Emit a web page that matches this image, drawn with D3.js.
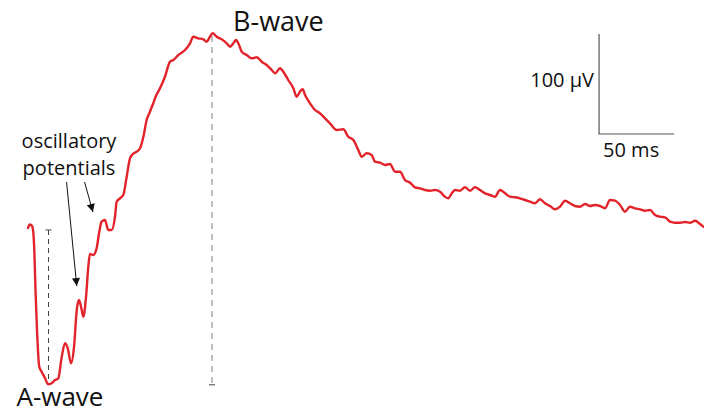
<!DOCTYPE html>
<html>
<head>
<meta charset="utf-8">
<script src="https://cdn.jsdelivr.net/npm/d3@7/dist/d3.min.js"></script>
<style>
  html, body { margin: 0; padding: 0; background: #fff; }
  svg { display: block; }
  text { font-family: "Open Sans", "Noto Sans", sans-serif; fill: #111; }
</style>
</head>
<body>
<svg id="erg" width="704" height="414"></svg>
<script>
// ERG flash response: time after flash (ms) and amplitude (µV, 0 = pre-flash baseline)
const timeMs = [
  0, 1.3, 2.7, 3.5, 4.2, 5, 6, 7.5, 9.1, 11.3, 13.5, 15.8, 18, 20.2, 22.5, 24.7, 26.5, 28.7,
  30.7, 32.5, 34, 35.8, 36.9, 38.7, 40.2, 41.3, 43.5, 45.8, 47.5, 49.1, 51.3, 53.5, 55.8, 58,
  59.1, 61.3, 63.5, 65.8, 68, 70, 72.5, 74.7, 76.9, 79.1, 81.3, 83.5, 85.3, 88, 91.3, 94.7,
  96.9, 100.2, 104.7, 108, 110.2, 113.5, 116.9, 119.1, 121.3, 123.1, 125.8, 129.1, 132.5,
  134.7, 136.9, 138.7, 140.2, 142.5, 145.8, 149.1, 152.5, 155.8, 159.1, 162.5, 164.7, 168,
  170.2, 173.5, 176.9, 179.1, 181.3, 183.1, 184.7, 188, 191.3, 194.7, 198, 201.3, 205.8,
  210.2, 213.5, 216.9, 220.2, 222.5, 225.8, 229.1, 231.3, 234.7, 238, 241.3, 244.7, 248,
  251.3, 254.7, 258, 261.3, 264.7, 268, 271.3, 274.7, 278, 280.2, 282.5, 284.7, 288, 291.3,
  294.7, 298, 301.3, 304.7, 308, 311.3, 314.7, 318, 321.3, 324.7, 328, 331.3, 334.7, 338,
  341.3, 344.7, 348, 351.3, 354.7, 358, 361.3, 364.7, 368, 371.3, 374.7, 378, 381.3, 384.7,
  388, 391.3, 394.7, 398, 401.3, 404.7, 408, 411.3, 414.7, 418, 421.3, 424.7, 428, 431.3,
  434.7, 438, 441.3, 444.7, 448, 450.2
];
const voltageUv = [
  2, 5.5, 4, -2, -20, -60, -100, -136.7, -141.7, -148, -154.3, -153.3, -150, -148.3, -126.7,
  -113.3, -118.3, -133.3, -116.7, -80, -70, -80, -86.7, -66.7, -36.7, -24, -25, -18, -2, 8.3,
  10, 0, 0, 13.3, 28.3, 31.7, 35, 53.3, 71.7, 76, 78.3, 81.7, 93, 110, 118.3, 126.7, 134,
  141.7, 153.3, 168.3, 170, 175, 180, 186.7, 193.3, 191.7, 190.7, 188.3, 193.3, 196.7, 193.3,
  190.7, 186.7, 183.3, 186.7, 190, 186.7, 178.3, 175, 171.7, 172.7, 168.3, 165, 160, 156.7,
  161.7, 158.3, 150, 141.7, 133.3, 138.3, 140.7, 135, 126.7, 120, 116.7, 111.7, 106.7, 100,
  100.7, 93.3, 90, 80, 73.3, 76.7, 75, 68.3, 67.3, 65, 66, 58.3, 58.3, 50, 47.3, 42.7, 41.7,
  40, 39.3, 40, 38.3, 33.3, 31.7, 36.7, 40, 39.3, 42.7, 39.3, 42.7, 40, 36.7, 35, 33.3, 40,
  36.7, 33.3, 32.7, 31.7, 30, 28.3, 26.7, 30.7, 26.7, 24, 20.7, 23.3, 29.3, 26.7, 24, 23.3,
  26, 24, 25, 24, 21.7, 30, 29.3, 25, 18.3, 23.3, 21.7, 20.7, 19.3, 20, 15, 13.3, 12.7, 8.3,
  7.3, 7.3, 8, 7.3, 9.3, 6, 3.3
];

// Measurement markers
const aWaveTime = 13.3;      // ms, A-wave trough
const aWaveTrough = -154.3;  // µV
const bWaveTime = 122.7;     // ms, B-wave peak
const bWavePeak = 194;       // µV (top of measurement line)

// Calibration bar
const scaleBarTime = [380.7, 430.7];  // 50 ms
const scaleBarVolt = [96, 196];       // 100 µV

// Arrows from the "oscillatory potentials" label to the first two wavelets
const opArrowStart = [[25.7, 48], [37.7, 48]];
const opArrowEnd   = [[32.5, -56], [43.3, 18]];

const svg = d3.select("#erg");

const x = d3.scaleLinear().domain([0, 450]).range([28, 703]);
const y = d3.scaleLinear().domain([-160, 200]).range([390, 30]);

const series = timeMs.map((t, i) => ({ t, v: voltageUv[i] }));

// Arrowhead marker
svg.append("defs").append("marker")
  .attr("id", "head")
  .attr("viewBox", "0 0 10 10")
  .attr("refX", 10).attr("refY", 5)
  .attr("markerWidth", 9).attr("markerHeight", 8)
  .attr("markerUnits", "userSpaceOnUse")
  .attr("orient", "auto")
  .append("path")
  .attr("d", "M0,0 L10,5 L0,10 Z")
  .attr("fill", "#111");

// A-wave measurement: baseline to trough
const aX = Math.round(x(aWaveTime)) + 0.5;
svg.append("line")
  .attr("x1", aX).attr("x2", aX)
  .attr("y1", y(0)).attr("y2", y(aWaveTrough) - 3)
  .attr("stroke", "#444").attr("stroke-width", 1)
  .attr("stroke-dasharray", "5,4");
svg.append("line")
  .attr("x1", aX - 3).attr("x2", aX + 3)
  .attr("y1", y(0)).attr("y2", y(0))
  .attr("stroke", "#444").attr("stroke-width", 1);

// B-wave measurement: trough to peak
const bX = Math.round(x(bWaveTime));
svg.append("line")
  .attr("x1", bX).attr("x2", bX)
  .attr("y1", y(bWavePeak)).attr("y2", y(aWaveTrough))
  .attr("stroke", "#aaa").attr("stroke-width", 1.5)
  .attr("stroke-dasharray", "6,5");
svg.append("line")
  .attr("x1", bX - 3).attr("x2", bX + 3)
  .attr("y1", y(aWaveTrough) + 0.5).attr("y2", y(aWaveTrough) + 0.5)
  .attr("stroke", "#444").attr("stroke-width", 1);

// Response trace
svg.append("path")
  .datum(series)
  .attr("fill", "none")
  .attr("stroke", "#e2232a")
  .attr("stroke-width", 2.4)
  .attr("stroke-linejoin", "round")
  .attr("stroke-linecap", "round")
  .attr("d", d3.line().x(d => x(d.t)).y(d => y(d.v)).curve(d3.curveMonotoneX));

// Arrows
opArrowStart.forEach((s, i) => {
  const e = opArrowEnd[i];
  svg.append("line")
    .attr("x1", x(s[0])).attr("y1", y(s[1]))
    .attr("x2", x(e[0])).attr("y2", y(e[1]))
    .attr("stroke", "#111").attr("stroke-width", 1)
    .attr("marker-end", "url(#head)");
});

// Calibration bar
svg.append("path")
  .attr("fill", "none")
  .attr("stroke", "#555")
  .attr("stroke-width", 1.2)
  .attr("d", `M${x(scaleBarTime[0])},${y(scaleBarVolt[1])} V${y(scaleBarVolt[0])} H${x(scaleBarTime[1])}`);
svg.append("text")
  .attr("x", x(scaleBarTime[0]) - 5).attr("y", y(scaleBarVolt[0]) - 47)
  .attr("text-anchor", "end").attr("font-size", 20)
  .text("100 µV");
svg.append("text")
  .attr("x", x(scaleBarTime[0]) + 4).attr("y", y(scaleBarVolt[0]) + 23)
  .attr("font-size", 20)
  .text("50 ms");

// Labels
svg.append("text")
  .attr("x", x(aWaveTime) + 12).attr("y", 406)
  .attr("text-anchor", "middle").attr("font-size", 26)
  .text("A-wave");
svg.append("text")
  .attr("x", bX + 21).attr("y", 31)
  .attr("font-size", 27)
  .text("B-wave");
const op = svg.append("text")
  .attr("text-anchor", "middle").attr("font-size", 20);
op.append("tspan").attr("x", 69).attr("y", 148).text("oscillatory");
op.append("tspan").attr("x", 69).attr("y", 175).text("potentials");
</script>
</body>
</html>
